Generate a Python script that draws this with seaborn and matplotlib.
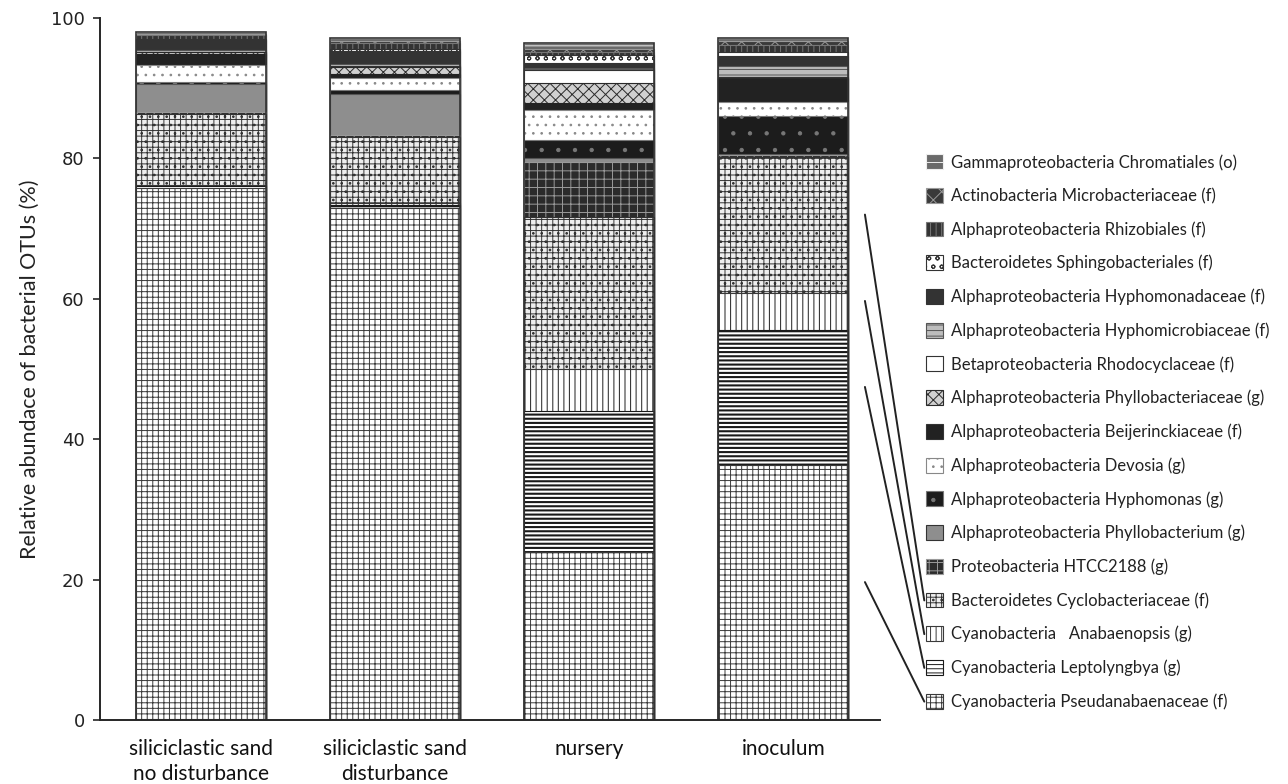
import numpy as np
import pandas as pd
import matplotlib.pyplot as plt
import seaborn as sns
from matplotlib.patches import Patch, ConnectionPatch

samples = ["siliciclastic sand\nno disturbance", "siliciclastic sand\ndisturbance", "nursery", "inoculum"]

# bottom to top
taxa = [
    "Cyanobacteria Pseudanabaenaceae (f)",
    "Cyanobacteria Leptolyngbya (g)",
    "Cyanobacteria   Anabaenopsis (g)",
    "Bacteroidetes Cyclobacteriaceae (f)",
    "Proteobacteria HTCC2188 (g)",
    "Alphaproteobacteria Phyllobacterium (g)",
    "Alphaproteobacteria Hyphomonas (g)",
    "Alphaproteobacteria Devosia (g)",
    "Alphaproteobacteria Beijerinckiaceae (f)",
    "Alphaproteobacteria Phyllobacteriaceae (g)",
    "Betaproteobacteria Rhodocyclaceae (f)",
    "Alphaproteobacteria Hyphomicrobiaceae (f)",
    "Alphaproteobacteria Hyphomonadaceae (f)",
    "Bacteroidetes Sphingobacteriales (f)",
    "Alphaproteobacteria Rhizobiales (f)",
    "Actinobacteria Microbacteriaceae (f)",
    "Gammaproteobacteria Chromatiales (o)",
]

no_dist = [75.8, 0.3, 0.1, 10.2, 0.2, 4.0, 0.3, 2.4, 1.6, 0.2, 0.1, 0.2, 1.5, 0.1, 0.6, 0.1, 0.3]
dist = [72.9, 0.4, 0.4, 9.4, 0.3, 5.8, 0.6, 1.6, 0.6, 1.0, 0.2, 0.3, 1.8, 0.3, 0.9, 0.2, 0.4]
nursery = [23.9, 20.1, 6.0, 21.7, 7.8, 0.6, 2.5, 4.3, 1.0, 2.8, 1.9, 0.3, 0.7, 1.1, 0.4, 0.5, 0.8]
inoculum = [36.3, 19.3, 5.2, 19.4, 0.3, 0.2, 5.3, 2.0, 3.3, 0.2, 0.1, 1.6, 1.4, 0.6, 1.0, 0.5, 0.5]

# (face, edge/hatch colour, hatch, hatch linewidth) per taxon
styles = [
    ("white", "#3a3a3a", "+++", 0.7),
    ("white", "#1a1a1a", "----", 1.5),
    ("white", "#3a3a3a", "|||", 0.8),
    ("#eeeeee", "#333333", "+++..", 0.7),
    ("#2b2b2b", "#9a9a9a", "++", 0.7),
    ("#8e8e8e", "#555555", "", 0.7),
    ("#1c1c1c", "#777777", ".", 0.7),
    ("white", "#888888", "..", 0.7),
    ("#222222", "#222222", "", 0.7),
    ("#d0d0d0", "#2a2a2a", "xxx", 0.7),
    ("white", "#333333", "", 0.7),
    ("#bdbdbd", "#555555", "---", 0.7),
    ("#333333", "#333333", "", 0.7),
    ("white", "#333333", "oo", 0.7),
    ("#333333", "#777777", "|||", 0.7),
    ("#3a3a3a", "#999999", "xx", 0.7),
    ("#6a6a6a", "#eeeeee", "--", 0.7),
]

df = pd.DataFrame({s: v for s, v in zip(samples, [no_dist, dist, nursery, inoculum])}, index=taxa)
cum = df.cumsum()

sns.set_style("ticks")
plt.rcParams["font.family"] = ["Lato", "DejaVu Sans"]
plt.rcParams["hatch.linewidth"] = 0.7

fig = plt.figure(figsize=(12.88, 7.84), dpi=100)
ax = fig.add_axes([0.0776, 0.0816, 0.606, 0.8954])

# draw cumulative tops from the top layer down so each layer covers the previous one
for i in range(len(taxa) - 1, -1, -1):
    face, edge, hatch, hlw = styles[i]
    with plt.rc_context({"hatch.linewidth": hlw}):
        sns.barplot(x=samples, y=cum.iloc[i].values, color=face, saturation=1,
                    edgecolor=edge, hatch=hatch, linewidth=0.8, width=0.67,
                    errorbar=None, ax=ax)

# outline each bar in dark grey
for j, s in enumerate(samples):
    ax.bar(j, cum[s].iloc[-1], width=0.67, fill=False, edgecolor="#333333", linewidth=1.2)

ax.set_xlim(-0.52, 3.5)
ax.set_ylim(0, 100)
ax.set_yticks([0, 20, 40, 60, 80, 100])
ax.set_yticklabels(["0", "20", "40", "60", "80", "100"], family="DejaVu Sans", fontsize=13,
                   color="#222222")
ax.set_ylabel("Relative abundace of bacterial OTUs (%)", fontsize=15.5, color="#222222", labelpad=8)
ax.tick_params(axis="x", length=0, labelsize=15, pad=14)
ax.tick_params(axis="y", length=5, width=1.2, direction="out", pad=6)
for t in ax.get_xticklabels():
    t.set_color("#111111")
    t.set_linespacing(1.3)
sns.despine(ax=ax)
ax.spines["left"].set_linewidth(1.4)
ax.spines["bottom"].set_linewidth(1.4)

handles = []
for t, (f, e, h, hlw) in zip(taxa, styles):
    with plt.rc_context({"hatch.linewidth": hlw}):
        handles.append(Patch(facecolor=f, edgecolor=e if h else "#333333", hatch=h,
                             label=t, linewidth=0.8))
leg = fig.legend(handles=handles[::-1], loc="upper left", bbox_to_anchor=(0.714, 0.812),
                 frameon=False, fontsize=12, handlelength=1.0, handleheight=1.0,
                 handletextpad=0.5, labelspacing=1.03, borderaxespad=0)
for t in leg.get_texts():
    t.set_color("#222222")

fig.canvas.draw()
texts = leg.get_texts()[::-1]  # bottom to top order
for k in range(4):
    bb = texts[k].get_window_extent()
    yb = (bb.y0 + bb.y1) / 2
    xb = bb.x0 - 27
    top = cum["inoculum"].iloc[k]
    bot = cum["inoculum"].iloc[k - 1] if k > 0 else 0
    mid = (top + bot) / 2
    con = ConnectionPatch(xyA=(3.42, mid + 1.5), coordsA=ax.transData,
                          xyB=(xb, yb), coordsB="figure pixels",
                          color="#222222", linewidth=1.4)
    fig.add_artist(con)

fig.savefig("out.png", dpi=100)
